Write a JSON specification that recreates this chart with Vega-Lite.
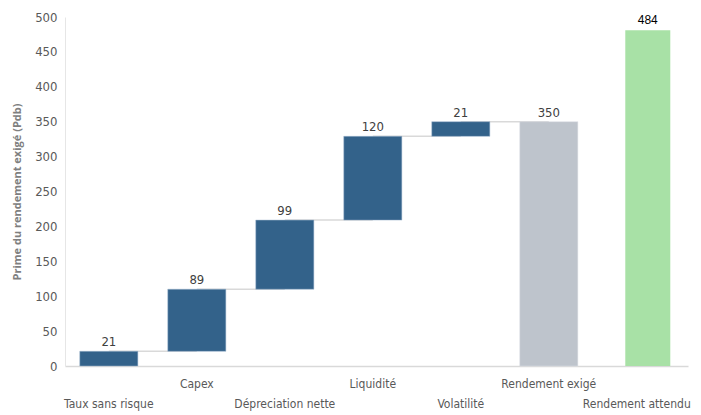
{
  "$schema": "https://vega.github.io/schema/vega-lite/v6.json",
  "autosize": "none",
  "padding": {"left": 65, "top": 17, "right": 13, "bottom": 49},
  "width": 623,
  "height": 349,
  "background": "white",
  "config": {
    "view": {"stroke": null},
    "font": "DejaVu Sans Condensed",
    "axisY": {
      "titleFontSize": 11, "titleFont": "Open Sans", "titleFontWeight": "bold", "titleColor": "#7f7f7f", "titlePadding": 12,
      "labelOverlap": false, "grid": false, "ticks": false, "domainColor": "#e6e6e6", "domainWidth": 1,
      "labelFontSize": 13, "labelColor": "#595959", "labelPadding": 8, "labelFont": "DejaVu Sans Condensed"
    }
  },
  "data": {"values": [
    {"cat": "Taux sans risque", "start": 0, "end": 21, "next": "Capex", "label": "21", "type": "step"},
    {"cat": "Capex", "start": 21, "end": 110, "next": "Dépreciation nette", "label": "89", "type": "step"},
    {"cat": "Dépreciation nette", "start": 110, "end": 209, "next": "Liquidité", "label": "99", "type": "step"},
    {"cat": "Liquidité", "start": 209, "end": 329, "next": "Volatilité", "label": "120", "type": "step"},
    {"cat": "Volatilité", "start": 329, "end": 350, "next": "Rendement exigé", "label": "21", "type": "step"},
    {"cat": "Rendement exigé", "start": 0, "end": 350, "next": null, "label": "350", "type": "total"},
    {"cat": "Rendement attendu", "start": 0, "end": 481, "next": null, "label": "484", "type": "attendu"}
  ]},
  "encoding": {
    "x": {
      "field": "cat", "type": "nominal", "sort": null,
      "scale": {"domain": ["Taux sans risque", "Capex", "Dépreciation nette", "Liquidité", "Volatilité", "Rendement exigé", "Rendement attendu"], "paddingInner": 0.34, "paddingOuter": 0.21, "align": 0.4},
      "axis": {
        "title": null, "labelAngle": 0, "ticks": false, "domainColor": "#d9d9d9", "domainWidth": 1.5,
        "labelFontSize": 12, "labelColor": "#595959", "labelFont": "DejaVu Sans Condensed", "labelOverlap": false,
        "labelPadding": {"expr": "indexof(['Capex','Liquidité','Rendement exigé'], datum.value) >= 0 ? 12 : 32"}
      }
    }
  },
  "layer": [
    {
      "transform": [{"filter": "datum.next != null"}],
      "mark": {"type": "rule", "color": "#d9d9d9", "strokeWidth": 1.5},
      "encoding": {
        "x2": {"field": "next"},
        "y": {"field": "end", "type": "quantitative", "scale": {"domain": [0, 500]}, "axis": {"title": "Prime du rendement exigé (Pdb)", "values": [0, 50, 100, 150, 200, 250, 300, 350, 400, 450, 500]}}
      }
    },
    {
      "transform": [{"filter": "datum.type != 'attendu'"}],
      "mark": {"type": "bar", "strokeWidth": 1, "strokeOpacity": 0.5},
      "encoding": {
        "y": {"field": "start", "type": "quantitative", "axis": {"title": "Prime du rendement exigé (Pdb)", "values": [0, 50, 100, 150, 200, 250, 300, 350, 400, 450, 500]}},
        "y2": {"field": "end"},
        "color": {
          "field": "type", "type": "nominal", "legend": null,
          "scale": {"domain": ["step", "total"], "range": ["#33628a", "#bec4cc"]}
        },
        "stroke": {
          "field": "type", "type": "nominal", "legend": null,
          "scale": {"domain": ["step", "total"], "range": ["#9fb7cf", "#dde2e8"]}
        }
      }
    },
    {
      "transform": [{"filter": "datum.type == 'attendu'"}],
      "mark": {"type": "bar", "color": "#a8e1a6", "width": 45, "xOffset": 11},
      "encoding": {
        "y": {"field": "start", "type": "quantitative", "axis": {"title": "Prime du rendement exigé (Pdb)", "values": [0, 50, 100, 150, 200, 250, 300, 350, 400, 450, 500]}},
        "y2": {"field": "end"}
      }
    },
    {
      "transform": [{"filter": "datum.type != 'attendu'"}],
      "mark": {"type": "text", "baseline": "bottom", "dy": -2, "fontSize": 13, "color": "#404040", "font": "DejaVu Sans Condensed"},
      "encoding": {
        "y": {"field": "end", "type": "quantitative", "axis": {"title": "Prime du rendement exigé (Pdb)", "values": [0, 50, 100, 150, 200, 250, 300, 350, 400, 450, 500]}},
        "text": {"field": "label"}
      }
    },
    {
      "transform": [{"filter": "datum.type == 'attendu'"}],
      "mark": {"type": "text", "baseline": "bottom", "dy": -3, "dx": 11, "fontSize": 12, "color": "#000000", "font": "Liberation Sans"},
      "encoding": {
        "y": {"field": "end", "type": "quantitative", "axis": {"title": "Prime du rendement exigé (Pdb)", "values": [0, 50, 100, 150, 200, 250, 300, 350, 400, 450, 500]}},
        "text": {"field": "label"}
      }
    }
  ]
}
